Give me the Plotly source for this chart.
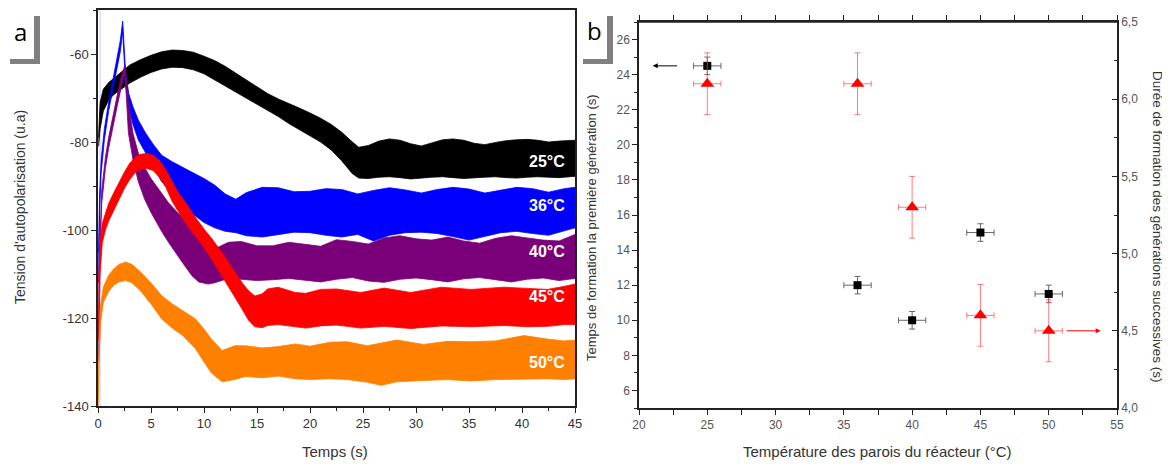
import plotly.graph_objects as go

# ---------------- Panel a : self-bias voltage envelopes ----------------
t_25 = [0.05, 0.2, 0.5, 1.0, 1.5, 2.0, 3.0, 4.0, 5.0, 6.0, 7.0, 8.0, 9.0, 10.0, 11.0, 12.0, 13.0, 14.0, 15.0, 16.0,
        17.0, 18.0, 19.0, 20.0, 21.0, 22.0, 23.0, 24.0, 24.6, 25.5, 26.5, 27.5, 28.5, 29.5, 30.5, 31.5, 32.5, 33.5,
        34.5, 35.5, 36.5, 37.5, 38.5, 39.5, 40.5, 41.5, 42.5, 43.5, 44.5, 45.0]
up_25 = [-79, -71, -68, -66.5, -65.5, -64.5, -62.5, -61.3, -60.3, -59.5, -59.1, -59.2, -59.6, -60.5, -61.5, -62.8,
         -64.4, -66, -67.6, -69, -70.2, -71.2, -72.3, -73.4, -74.6, -76, -77.8, -80, -81.2, -80.8, -79.8, -79.3,
         -79.6, -80.4, -80.9, -80.2, -79.5, -79.3, -79.6, -80.3, -80.6, -80.1, -79.7, -79.5, -79.4, -79.6, -80,
         -79.8, -79.6, -79.6]
lo_25 = [-81, -77, -73, -70.5, -69.2, -68.2, -66.6, -65.3, -64.2, -63.4, -63, -63.1, -63.6, -64.5, -65.8, -67.2,
         -68.6, -70, -71.5, -72.8, -74.2, -75.8, -77.3, -78.6, -80, -81.8, -84.3, -87.2, -88.2, -88.3, -88, -87.9,
         -88.1, -88.4, -88.2, -88, -87.9, -88.1, -88.3, -88.2, -88, -87.9, -88.1, -88.2, -88, -87.9, -88, -88.1,
         -87.9, -87.8]

t_36 = [0.05, 0.15, 0.3, 0.6, 1.0, 1.4, 1.8, 2.1, 2.33, 2.45, 2.6, 2.9, 3.3, 3.8, 4.5, 5.2, 6.0, 7.0, 8.0, 9.0,
        10.0, 11.0, 12.0, 13.0, 14.0, 15.5, 17.0, 18.5, 20.0, 21.5, 23.0, 24.5, 26.0, 27.5, 29.0, 30.5, 32.0, 33.5,
        35.0, 36.5, 38.0, 39.5, 41.0, 42.5, 44.0, 45.0]
up_36 = [-105, -92, -84, -77, -71, -66, -61, -57, -52.5, -58, -64, -69, -72, -75, -78, -80.5, -83, -84.5, -85.8,
         -87, -88.3, -89.8, -91.8, -93, -91.5, -90.3, -90.4, -91.3, -91.2, -90.6, -90.8, -91.8, -91, -90.4, -90.9,
         -91.6, -90.8, -90.3, -90.7, -91.6, -90.9, -90.3, -90.6, -91.4, -90.6, -90.3]
lo_36 = [-112, -96, -87, -79.5, -73, -68, -63, -59.5, -55, -61, -67, -72, -76, -79.5, -82.5, -85.5, -89, -91.5,
         -94, -96.5, -98.3, -99.5, -100.3, -100.6, -101.3, -101.6, -101, -100.5, -100.6, -101.2, -101.6, -101,
         -102.5, -101.2, -100.6, -100.5, -100.8, -101.5, -102.3, -101.5, -100.6, -100.3, -100.8, -101.2, -100.2,
         -99.5]

t_40 = [0.05, 0.15, 0.35, 0.7, 1.0, 1.4, 1.8, 2.2, 2.55, 2.87, 3.3, 3.8, 4.4, 5.0, 5.5, 6.0, 6.65, 7.5, 8.0, 8.86,
        9.5, 10.4, 11.0, 12.3, 13.5, 15.0, 16.5, 18.0, 19.5, 21.0, 22.5, 24.0, 25.5, 27.0, 28.5, 30.0, 31.5, 33.0,
        34.5, 36.0, 37.5, 39.0, 40.5, 42.0, 43.5, 45.0]
up_40 = [-125, -105, -91, -83.5, -79, -74, -69.5, -65, -62.5, -71, -78, -82.5, -85.8, -88.3, -90, -91.8, -93.8,
         -96, -97.3, -99.5, -101, -103.2, -104.3, -102.8, -102.6, -103.6, -103.6, -102.8, -103.2, -103.7, -102.2,
         -102.6, -103.2, -101.8, -101.3, -102, -102.3, -101.6, -102.5, -103, -101.9, -101.3, -101.8, -102.3,
         -102.5, -101]
lo_40 = [-130, -108, -94, -86, -81.5, -76.5, -72, -67.5, -64.5, -78, -84, -89, -93, -96, -98.3, -100.3, -102.8,
         -105.8, -107.5, -110.4, -111.8, -112.3, -112, -111, -111.2, -111.5, -111.3, -111, -111.4, -111.8, -111.2,
         -110.8, -111.6, -111.9, -111.2, -110.9, -111.3, -111.8, -111.1, -110.8, -111.3, -111.8, -111.2, -110.9,
         -111.5, -111]

t_45 = [0.05, 0.2, 0.4, 0.7, 1.0, 1.5, 2.0, 2.5, 3.0, 3.5, 4.0, 4.6, 5.2, 5.8, 6.4, 7.0, 7.5, 8.2, 9.0, 10.0,
        10.75, 11.5, 12.2, 12.9, 13.6, 14.2, 14.8, 15.5, 16.0, 17.0, 18.6, 19.6, 21.0, 22.5, 24.8, 27.0, 29.5,
        32.4, 35.2, 38.3, 40.5, 42.4, 44.0, 45.0]
up_45 = [-112, -103, -98.5, -96, -94, -91.5, -89, -86.8, -84.8, -83.5, -82.8, -82.6, -83, -84.2, -86.3, -89,
         -91.2, -93.5, -96.5, -99.8, -102, -104.5, -107, -109.6, -112, -113.8, -115, -114.5, -113.4, -113,
         -114.2, -114.4, -113.5, -113.4, -114.2, -113.2, -114.2, -113, -113.5, -113, -113.3, -113.5, -112.8, -112.3]
lo_45 = [-125, -110, -103, -100, -98, -95.5, -93, -90.5, -88.5, -87, -86.2, -86, -86.5, -88, -90.3, -93.5,
         -95.5, -98.2, -100.8, -104, -106.7, -109.5, -112.5, -115.2, -118, -120.5, -122, -122.2, -121.7, -121.5,
         -122, -122.3, -121.8, -121.6, -122.3, -121.9, -122.4, -121.8, -122, -121.7, -122, -121.9, -121.5, -121.5]

t_50 = [0.03, 0.1, 0.25, 0.5, 1.0, 1.5, 2.0, 2.6, 3.2, 4.0, 5.0, 6.0, 7.0, 8.0, 9.2, 10.0, 10.7, 11.7, 12.9,
        13.9, 15.5, 17.0, 18.6, 20.0, 21.9, 23.5, 25.4, 26.7, 28.2, 30.7, 33.0, 35.2, 37.5, 40.2, 42.4, 44.0, 45.0]
up_50 = [-138, -125, -117, -113, -110.3, -108.8, -107.8, -107.3, -107.8, -109.5, -112, -114.9, -116.8, -118.3,
         -120.2, -122.5, -124.8, -127.4, -126.3, -126.3, -126.8, -126.5, -125.9, -126.4, -125.5, -125.4, -126.3,
         -125.7, -125, -126, -125.3, -125.4, -125.2, -124, -124.8, -125.2, -125]
lo_50 = [-140, -130, -121, -116.5, -114, -112.5, -111.8, -111.5, -112, -113.8, -116.8, -120.2, -122.3, -124,
         -127, -130, -132.5, -134.5, -134, -133.3, -133.6, -133.2, -133.8, -134, -133.8, -134, -134.6, -135.3,
         -134.5, -134.2, -134, -134.3, -134, -133.9, -133.8, -134, -133.8]

# faint start-up trace at t ~ 0 spanning the whole panel
start_t = [0.2, 0.2]
start_v = [-140, -50]

curve_names = ["25°C", "36°C", "40°C", "45°C", "50°C"]
curve_colors = ["#000000", "#0000FF", "#7A007A", "#FF0000", "#FF8000"]
label_t = [42.4, 42.4, 42.4, 42.4, 42.4]
label_v = [-84.5, -94.5, -104.8, -115.0, -130.0]

xa_ticks = [0, 5, 10, 15, 20, 25, 30, 35, 40, 45]
ya_ticks = [-140, -120, -100, -80, -60]
ya_ticktext = ["-140", "-120", "-100", "-80", "-60"]

# ---------------- Panel b : formation times ----------------
temp = [25, 36, 40, 45, 50]
t_first = [24.5, 12.0, 10.0, 15.0, 11.5]
t_first_err = [0.5, 0.5, 0.5, 0.5, 0.5]
t_succ = [6.1, 6.1, 5.3, 4.6, 4.5]
t_succ_err = [0.2, 0.2, 0.2, 0.2, 0.2]
temp_err = [1, 1, 1, 1, 1]

yb_left_ticks = [6, 8, 10, 12, 14, 16, 18, 20, 22, 24, 26]
yb_right_ticks = [4.0, 4.5, 5.0, 5.5, 6.0, 6.5]
yb_right_text = ["4,0", "4,5", "5,0", "5,5", "6,0", "6,5"]
xb_ticks = [20, 25, 30, 35, 40, 45, 50, 55]

arrow_black = dict(head=(21.0, 24.5), tail=(22.9, 24.5))
arrow_red = dict(head=(53.8, 4.5), tail=(51.2, 4.5))

# the page body has an 8 px margin: the figure is sized to fill the rest of the window
OFF = 8
W, H = 1170 - OFF, 465 - OFF
FONT = "Liberation Sans, Arial, sans-serif"


def px(x):
    return (x - OFF) / W


def py(y):
    return 1 - (y - OFF) / H


fig = go.Figure()

fig.add_trace(go.Scatter(x=start_t, y=start_v, mode="lines", line=dict(color="rgba(130,130,255,0.45)", width=1),
                         xaxis="x", yaxis="y", hoverinfo="skip"))

series = [(t_25, up_25, lo_25), (t_36, up_36, lo_36), (t_40, up_40, lo_40), (t_45, up_45, lo_45), (t_50, up_50, lo_50)]
for (tt, up, lo), name, col in zip(series, curve_names, curve_colors):
    fig.add_trace(go.Scatter(
        x=list(tt) + list(tt)[::-1], y=list(up) + list(lo)[::-1],
        fill="toself", fillcolor=col, mode="lines", line=dict(color=col, width=0.8),
        name=name, xaxis="x", yaxis="y", hoverinfo="skip"))

for name, tx, vy in zip(curve_names, label_t, label_v):
    fig.add_annotation(x=tx, y=vy, xref="x", yref="y", text="<b>%s</b>" % name, showarrow=False,
                       font=dict(family=FONT, size=16, color="white"))

# panel b traces
fig.add_trace(go.Scatter(
    x=temp, y=t_first, mode="markers", xaxis="x2", yaxis="y2",
    marker=dict(symbol="square", size=8, color="black"),
    error_y=dict(type="data", array=t_first_err, color="#666", thickness=1, width=3),
    error_x=dict(type="data", array=temp_err, color="#666", thickness=1, width=3)))
fig.add_trace(go.Scatter(
    x=temp, y=t_succ, mode="markers", xaxis="x2", yaxis="y3",
    marker=dict(symbol="triangle-up", size=12, color="red"),
    error_y=dict(type="data", array=t_succ_err, color="rgba(255,70,70,0.7)", thickness=1, width=3),
    error_x=dict(type="data", array=temp_err, color="rgba(255,70,70,0.7)", thickness=1, width=3)))

fig.add_annotation(x=arrow_black["head"][0], y=arrow_black["head"][1], ax=arrow_black["tail"][0],
                   ay=arrow_black["tail"][1], xref="x2", yref="y2", axref="x2", ayref="y2",
                   showarrow=True, arrowhead=2, arrowsize=1, arrowwidth=1, arrowcolor="black", text="")
fig.add_annotation(x=arrow_red["head"][0], y=arrow_red["head"][1], ax=arrow_red["tail"][0],
                   ay=arrow_red["tail"][1], xref="x2", yref="y3", axref="x2", ayref="y3",
                   showarrow=True, arrowhead=2, arrowsize=1, arrowwidth=1, arrowcolor="red", text="")

axis_common = dict(showgrid=False, zeroline=False, showline=True, linecolor="#222", linewidth=1.5,
                   tickcolor="#222", tickwidth=1.2, automargin=False)

fig.update_layout(
    template="none",
    width=W, height=H, margin=dict(l=0, r=0, t=0, b=0, pad=0, autoexpand=False),
    paper_bgcolor="white", plot_bgcolor="white", showlegend=False,
    font=dict(family=FONT),
    xaxis=dict(domain=[px(98), px(575)], range=[0, 45], anchor="y", mirror=True,
               tickvals=xa_ticks, ticks="outside", ticklen=5,
               minor=dict(ticks="outside", dtick=2.5, tick0=0, ticklen=3, tickcolor="#222"),
               tickfont=dict(size=13, color="#333"), **axis_common),
    yaxis=dict(domain=[py(406), py(10)], range=[-140, -50], anchor="x", mirror=True,
               tickvals=ya_ticks, ticktext=ya_ticktext, ticks="outside", ticklen=5,
               minor=dict(ticks="outside", dtick=10, tick0=-140, ticklen=3, tickcolor="#222"),
               tickfont=dict(size=13, color="#333"), **axis_common),
    xaxis2=dict(domain=[px(639), px(1117)], range=[20, 55], anchor="y2", mirror="allticks",
                tickvals=xb_ticks, ticks="outside", ticklen=5,
                minor=dict(ticks="outside", dtick=2.5, tick0=20, ticklen=3, tickcolor="#222"),
                tickfont=dict(size=12, color="#555"), **axis_common),
    yaxis2=dict(domain=[py(408), py(22)], range=[5, 27], anchor="x2",
                tickvals=yb_left_ticks, ticks="outside", ticklen=5,
                minor=dict(ticks="outside", dtick=1, tick0=5, ticklen=3, tickcolor="#222"),
                tickfont=dict(size=12, color="#555"), **axis_common),
    yaxis3=dict(overlaying="y2", side="right", anchor="x2", range=[4.0, 6.5],
                tickvals=yb_right_ticks, ticktext=yb_right_text, ticks="inside", ticklen=5,
                minor=dict(ticks="inside", dtick=0.25, tick0=4.0, ticklen=3, tickcolor="#222"),
                tickfont=dict(size=12, color="#555"), **axis_common),
)

# top frame line of panel b
fig.add_shape(type="line", xref="paper", yref="paper", x0=px(639), x1=px(1117), y0=py(22), y1=py(22),
              line=dict(color="#222", width=1.5))

# axis titles
titles = [
    dict(text="Tension d'autopolarisation (u.a)", x=20, y=207, angle=-90, size=14),
    dict(text="Temps (s)", x=335, y=451, angle=0, size=15),
    dict(text="Temps de formation la première génération (s)", x=591, y=228, angle=-90, size=13),
    dict(text="Durée de formation des générations successives (s)", x=1158, y=226, angle=90, size=13.5),
    dict(text="Température des parois du réacteur (°C)", x=877, y=451, angle=0, size=15),
]
for ti in titles:
    fig.add_annotation(x=px(ti["x"]), y=py(ti["y"]), xref="paper", yref="paper", text=ti["text"],
                       textangle=ti["angle"], showarrow=False, xanchor="center", yanchor="middle",
                       font=dict(size=ti["size"], color="#333", family=FONT))

# panel letters with gray L-shaped frames
for letter, lx, ly, vx in [("a", 20, 31, 34), ("b", 594, 30, 607)]:
    fig.add_annotation(x=px(lx), y=py(ly), xref="paper", yref="paper", text=letter, showarrow=False,
                       xanchor="center", yanchor="middle",
                       font=dict(size=24, color="black", family="Open Sans, sans-serif"))
    fig.add_shape(type="rect", xref="paper", yref="paper", x0=px(vx), x1=px(vx + 6), y0=py(64), y1=py(16),
                  fillcolor="#808080", line=dict(width=0))
    fig.add_shape(type="rect", xref="paper", yref="paper", x0=px(vx - 24), x1=px(vx + 6), y0=py(64), y1=py(59),
                  fillcolor="#808080", line=dict(width=0))

fig.write_html("out.html")
